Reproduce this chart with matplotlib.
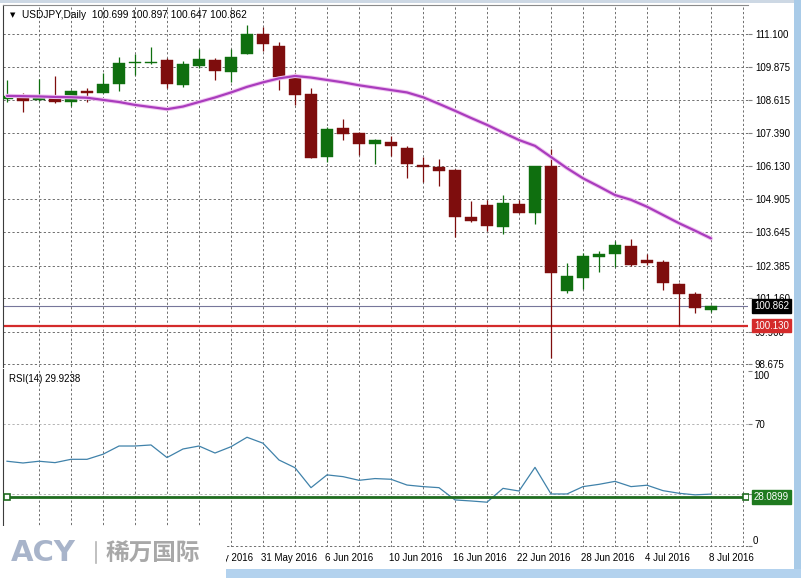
import matplotlib
matplotlib.use("Agg")
import matplotlib.pyplot as plt
from matplotlib.lines import Line2D
from matplotlib.patches import Rectangle

plt.rcParams['font.family'] = ['Liberation Sans', 'DejaVu Sans']

# ---------------- data ----------------
symbol = "USDJPY,Daily"
dates = ['9 May 2016', '10 May 2016', '11 May 2016', '12 May 2016', '13 May 2016',
         '16 May 2016', '17 May 2016', '18 May 2016', '19 May 2016', '20 May 2016',
         '23 May 2016', '24 May 2016', '25 May 2016', '26 May 2016', '27 May 2016',
         '30 May 2016', '31 May 2016', '1 Jun 2016', '2 Jun 2016', '3 Jun 2016',
         '6 Jun 2016', '7 Jun 2016', '8 Jun 2016', '9 Jun 2016', '10 Jun 2016',
         '13 Jun 2016', '14 Jun 2016', '15 Jun 2016', '16 Jun 2016', '17 Jun 2016',
         '20 Jun 2016', '21 Jun 2016', '22 Jun 2016', '23 Jun 2016', '24 Jun 2016',
         '27 Jun 2016', '28 Jun 2016', '29 Jun 2016', '30 Jun 2016', '1 Jul 2016',
         '4 Jul 2016', '5 Jul 2016', '6 Jul 2016', '7 Jul 2016', '8 Jul 2016']

opens = [108.655, 108.78, 108.62, 108.77, 108.55, 108.96, 108.89, 109.21, 109.99, 110.00,
         110.12, 109.18, 109.91, 110.12, 109.68, 110.34, 111.10, 110.65, 109.52, 108.84,
         106.48, 107.57, 107.36, 106.95, 107.05, 106.82, 106.17, 106.11, 105.98, 104.20,
         104.67, 103.85, 104.70, 104.38, 106.13, 101.44, 101.91, 102.72, 102.81, 103.12,
         102.60, 102.51, 101.69, 101.32, 100.699]
highs = [109.37, 108.87, 109.40, 109.52, 108.99, 109.08, 109.62, 110.25, 110.35, 110.60,
         110.19, 110.10, 110.52, 110.21, 110.52, 111.44, 111.37, 110.79, 109.62, 109.08,
         107.61, 107.90, 107.40, 107.15, 107.26, 106.89, 106.46, 106.40, 106.01, 104.82,
         104.85, 105.04, 104.85, 106.13, 106.78, 102.47, 102.85, 102.94, 103.31, 103.39,
         102.82, 102.60, 101.74, 101.41, 100.897]
lows = [108.55, 108.18, 108.58, 108.52, 108.39, 108.55, 108.87, 108.97, 109.56, 109.98,
        109.08, 109.12, 109.81, 109.37, 109.31, 110.33, 110.46, 108.99, 108.43, 106.44,
        106.30, 107.11, 106.55, 106.21, 106.51, 105.69, 105.54, 105.38, 103.47, 104.04,
        103.70, 103.56, 104.37, 103.95, 98.90, 101.37, 101.49, 102.16, 102.35, 102.37,
        102.41, 101.47, 100.13, 100.59, 100.647]
closes = [108.77, 108.59, 108.77, 108.55, 108.96, 108.87, 109.22, 110.02, 110.00, 110.02,
          109.21, 109.97, 110.16, 109.72, 110.25, 111.10, 110.71, 109.49, 108.81, 106.45,
          107.53, 107.34, 106.95, 107.11, 106.90, 106.20, 106.08, 105.96, 104.23, 104.08,
          103.88, 104.75, 104.38, 106.13, 102.10, 101.99, 102.75, 102.81, 103.16, 102.41,
          102.50, 101.72, 101.31, 100.78, 100.862]
ma_values = [108.77, 108.76, 108.75, 108.73, 108.72, 108.70, 108.62, 108.54, 108.43, 108.35,
             108.27, 108.37, 108.54, 108.71, 108.90, 109.11, 109.28, 109.43, 109.52, 109.46,
             109.37, 109.28, 109.17, 109.08, 108.99, 108.90, 108.72, 108.47, 108.21, 107.94,
             107.68, 107.39, 107.11, 106.89, 106.47, 106.05, 105.67, 105.36, 105.04, 104.86,
             104.60, 104.29, 103.98, 103.70, 103.41]
rsi_values = [48.7, 47.7, 48.7, 47.9, 49.8, 49.8, 52.7, 57.4, 57.4, 58.0,
              50.8, 55.7, 57.4, 53.4, 57.0, 62.4, 59.0, 49.4, 45.0, 33.6,
              40.9, 39.9, 37.8, 38.8, 38.4, 35.1, 34.2, 33.6, 26.6, 26.0,
              25.3, 33.2, 31.7, 45.2, 30.0, 30.0, 34.2, 35.5, 37.2, 34.2,
              35.0, 31.9, 30.4, 29.5, 29.9238]
rsi_current = 29.9238
rsi_level = 28.0899
support_level = 100.130
price_ticks = [111.100, 109.875, 108.615, 107.390, 106.130, 104.905,
               103.645, 102.385, 101.160, 99.900, 98.675]
rsi_ticks = [0, 30, 70, 100]
# labels at 9, 13 and 19 May sit under the logo in the reference and are not visible
date_label_idx = list(range(12, len(dates), 4))

# ---------------- styles ----------------
BULL = '#0f6f0f'
BEAR = '#7e0d0d'
GRID = '#6e6e6e'
W, H = 801, 578


def fx(px):
    return px / W


def fy(py):
    return 1 - py / H


fig = plt.figure(figsize=(W / 100, H / 100), dpi=100)
fig.patch.set_facecolor('white')

ax = fig.add_axes([fx(3), fy(367), fx(748) - fx(3), fy(5) - fy(367)])
ax2 = fig.add_axes([fx(3), fy(547), fx(748) - fx(3), fy(369) - fy(547)])

n = len(dates)
xs = list(range(n))
xlim = (-0.25, 46.3125)

# ---------------- main price panel ----------------
for k in xs:
    o, h, l, c = opens[k], highs[k], lows[k], closes[k]
    col = BULL if c >= o else BEAR
    ax.vlines(k, l, h, color=col, lw=0.9, zorder=3)
    body = max(abs(c - o), 0.05)
    ax.bar(k, body, bottom=min(o, c), width=0.69, color=col, edgecolor=col,
           linewidth=0.3, zorder=4)

ax.plot(xs, ma_values, color='#f1c6f1', lw=3.0, solid_capstyle='round', zorder=5)
ax.plot(xs, ma_values, color='#a93cbd', lw=1.6, solid_capstyle='round', zorder=6)

ax.axhline(closes[-1], color='#76769a', lw=0.8, zorder=2)
ax.axhline(support_level, color='#d42b2b', lw=1.6, zorder=2)

ax.set_xlim(*xlim)
ax.set_ylim(98.57, 112.19)
ax.set_xticks(list(range(2, 47, 2)))
ax.set_yticks(price_ticks)
ax.set_yticklabels([f"{v:.3f}" for v in price_ticks])
ax.grid(True, color=GRID, linestyle=(0, (2.3, 2.3)), linewidth=0.7)
ax.set_axisbelow(True)
ax.tick_params(axis='x', length=0, labelbottom=False)
ax.tick_params(axis='y', left=False, right=True, labelleft=False, labelright=True,
               length=3, width=0.8, color='#808080', labelsize=7, pad=2)
for s in ['right', 'bottom']:
    ax.spines[s].set_visible(False)
ax.spines['left'].set_color('#3c3c3c')
ax.spines['top'].set_color('#8a8a8a')

ax.annotate(f"{closes[-1]:.3f}", xy=(1, closes[-1]), xycoords=('axes fraction', 'data'),
            xytext=(6, 0), textcoords='offset pixels', va='center', ha='left',
            fontsize=7, color='white', zorder=20, annotation_clip=False,
            bbox=dict(boxstyle='square,pad=0.2', fc='black', ec='black'))
ax.annotate(f"{support_level:.3f}", xy=(1, support_level), xycoords=('axes fraction', 'data'),
            xytext=(6, 0), textcoords='offset pixels', va='center', ha='left',
            fontsize=7, color='white', zorder=20, annotation_clip=False,
            bbox=dict(boxstyle='square,pad=0.2', fc='#d42b2b', ec='#d42b2b'))

fig.text(fx(10), fy(15.5), '\u25bc', fontsize=5, va='center', ha='left',
         family='DejaVu Sans', color='black')
fig.text(fx(21.5), fy(15), f"{symbol}  {opens[-1]:.3f} {highs[-1]:.3f} "
         f"{lows[-1]:.3f} {closes[-1]:.3f}", fontsize=7.3, va='center', ha='left',
         color='black')

# ---------------- RSI panel ----------------
ax2.plot(xs, rsi_values, color='#4082aa', lw=0.9, zorder=4)
ax2.axhline(70, color='#b4b4b4', linestyle=(0, (2.3, 2.3)), lw=0.7, zorder=1)
ax2.axhline(30, color='#b4b4b4', linestyle=(0, (2.3, 2.3)), lw=0.7, zorder=1)
ax2.axhline(0, color=GRID, linestyle=(0, (2.3, 2.3)), lw=0.7, zorder=1)
ax2.axhline(rsi_level, xmin=0.0054, xmax=0.997, color='#1f6c1f', lw=2.0,
            marker='s', ms=4, mfc='white', mec='#1f6c1f', mew=1.2, zorder=5)
ax2.set_xlim(*xlim)
ax2.set_ylim(-0.3, 101.4)
ax2.set_xticks(list(range(2, 47, 2)))
ax2.grid(True, axis='x', color=GRID, linestyle=(0, (2.3, 2.3)), linewidth=0.7)
ax2.set_axisbelow(True)
ax2.set_yticks(rsi_ticks)
ax2.set_yticklabels(['' if v in (0, 100) else str(v) for v in rsi_ticks])
ax2.tick_params(axis='x', length=0, labelbottom=False)
ax2.tick_params(axis='y', left=False, right=True, labelleft=False, labelright=True,
                length=3, width=0.8, color='#808080', labelsize=7, pad=2)
for s in ['right', 'bottom', 'top']:
    ax2.spines[s].set_visible(False)
ax2.spines['left'].set_color('#3c3c3c')

ax2.annotate('100', xy=(1, 100), xycoords=('axes fraction', 'data'), xytext=(5, -5),
             textcoords='offset pixels', va='center', ha='left', fontsize=7,
             annotation_clip=False)
ax2.annotate('0', xy=(1, 0), xycoords=('axes fraction', 'data'), xytext=(5, 5),
             textcoords='offset pixels', va='center', ha='left', fontsize=7,
             annotation_clip=False)
ax2.annotate(f"{rsi_level:.4f}", xy=(1, rsi_level), xycoords=('axes fraction', 'data'),
             xytext=(6, 0), textcoords='offset pixels', va='center', ha='left',
             fontsize=7, color='white', zorder=20, annotation_clip=False,
             bbox=dict(boxstyle='square,pad=0.2', fc='#1f7a1f', ec='#1f7a1f'))
ax2.text(0.008, 0.945, f"RSI(14) {rsi_current:.4f}", transform=ax2.transAxes,
         fontsize=7, va='center', ha='left')

for k in date_label_idx:
    ax2.annotate(dates[k], xy=(k, 0), xycoords=('data', 'axes fraction'),
                 xytext=(-2, -11), textcoords='offset pixels', va='center', ha='left',
                 fontsize=7, annotation_clip=False)

# ---------------- window decoration & logo ----------------
fig.patches.append(Rectangle((0, fy(3)), 1, 3 / H, transform=fig.transFigure,
                             fc='#cdd8e4', ec='none', zorder=1))
fig.patches.append(Rectangle((fx(794), 0), 7 / W, 1, transform=fig.transFigure,
                             fc='#a9cbe8', ec='none', zorder=1))
fig.patches.append(Rectangle((fx(226), 0), fx(801) - fx(226), 9 / H,
                             transform=fig.transFigure, fc='#b3d2ee', ec='none', zorder=1))
fig.patches.append(Rectangle((0, 0), fx(226), 52 / H, transform=fig.transFigure,
                             fc='white', ec='none', zorder=2))
fig.text(fx(11), fy(553), 'ACY', fontsize=21, fontweight='heavy', color='#a8b4ca',
         family='DejaVu Sans', va='center', ha='left', zorder=3)
fig.add_artist(Line2D([fx(96), fx(96)], [fy(542), fy(563)], transform=fig.transFigure,
                      color='#b5b5b5', lw=1.2, zorder=3))
fig.text(fx(106), fy(553), '稀万国际', fontsize=17, fontweight='bold', color='#a8a8a8',
         family=['Noto Sans CJK SC', 'DejaVu Sans'], va='center', ha='left', zorder=3)

fig.savefig('out.png', dpi=100)
